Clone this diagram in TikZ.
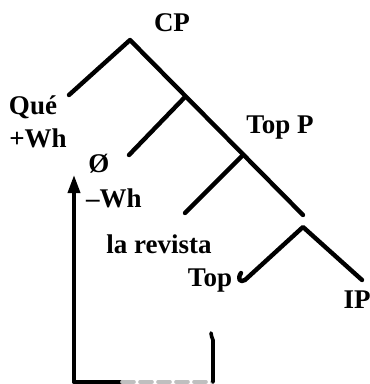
\documentclass[tikz,border=0pt]{standalone}
\usepackage{fontspec}
\setmainfont{Liberation Serif}
\usetikzlibrary{arrows.meta}
\tikzset{
  branch/.style={line width=4.4pt, line cap=round, line join=round},
  lbl/.style={font=\fontsize{27}{29}\selectfont\bfseries, inner sep=0pt},
  mv/.style={line width=3.6pt, line cap=round}
}
\begin{document}
\begin{tikzpicture}[x=1pt,y=-1pt]
\useasboundingbox (0,0) rectangle (370,384);
% tree points
\coordinate (cp) at (130,40);
\coordinate (qe) at (69,95);
\coordinate (n1) at (185,97);
\coordinate (n1l) at (129,155);
\coordinate (n2) at (243,155);
\coordinate (n2l) at (185,213);
\coordinate (n3) at (303,215);
\coordinate (t) at (303,227);
\coordinate (tl) at (245,280);
\coordinate (tr) at (362,280);
% movement points
\coordinate (ab) at (74,382);
\coordinate (at) at (74,175);
\coordinate (rb) at (213,382);
\coordinate (rt) at (213,340);
% labels
\node[lbl] (CP) at (172,23) {CP};
\node[lbl] (que) at (33,107) {Qué};
\node[lbl] (wh1) at (38,138) {+Wh};
\node[lbl] (topp) at (280,128) {Top P};
\node[lbl] (null) at (99,164) {Ø};
\node[lbl] (wh2) at (114,198) {–Wh};
\node[lbl] (rev) at (159,244) {la revista};
\node[lbl] (top) at (210,281) {Top};
\node[lbl] (ip) at (357,300) {IP};
% branches
\draw[branch] (qe) -- (cp) -- (n3);
\draw[branch] (n1) -- (n1l);
\draw[branch] (n2) -- (n2l);
\draw[branch] (tr) -- (t) -- (tl) .. controls (240,283) and (237,279) .. (241,273);
% movement
\draw[mv, -{Triangle[length=18pt,width=12pt]}] (ab) -- (at);
\draw[mv] (ab) -- (122,382);
\draw[mv, gray!50, dash pattern=on 12pt off 6pt] (122,382) -- (rb);
\draw[mv] (rb) -- (rt) .. controls (213,337) and (210,336) .. (211,333);
\end{tikzpicture}
\end{document}
